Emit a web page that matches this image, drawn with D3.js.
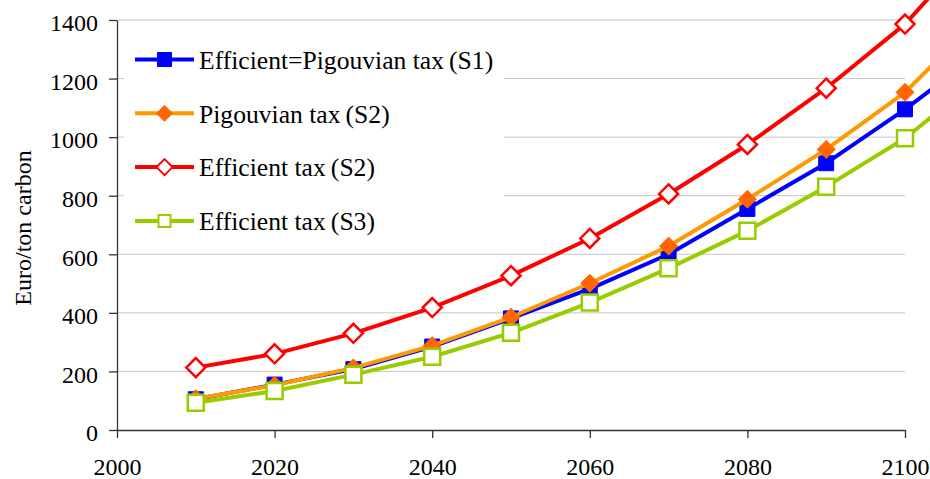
<!DOCTYPE html>
<html>
<head>
<meta charset="utf-8">
<script src="https://cdn.jsdelivr.net/npm/d3@7"></script>
<style>
  body { margin: 0; background: #fff; }
  svg { display: block; font-family: "Liberation Serif", "Times New Roman", serif; }
  .tick text { font-family: "Liberation Serif", "Times New Roman", serif !important; font-size: 24px !important; fill: #000; }
</style>
</head>
<body>
<div id="chart"></div>
<script>
// data
var years = [2010, 2020, 2030, 2040, 2050, 2060, 2070, 2080, 2090, 2100, 2110];
var effPigS1 = [105, 155, 208, 285, 381, 482, 600, 755, 911, 1095, 1297];
var pigS2 = [107, 153, 212, 288, 385, 501, 628, 788, 958, 1153, 1422];
var effS2 = [213, 260, 330, 418, 527, 654, 806, 975, 1167, 1386, 1683];
var effS3 = [93, 133, 189, 250, 332, 435, 552, 680, 831, 996, 1213];
var seriesNames = ["Efficient=Pigouvian tax\u2009(S1)", "Pigouvian tax\u2009(S2)", "Efficient tax\u2009(S2)", "Efficient tax\u2009(S3)"];
var yTicks = [0, 200, 400, 600, 800, 1000, 1200, 1400];
var xTicks = [2000, 2020, 2040, 2060, 2080, 2100];

var width = 930, height = 479;
var plotLeft = 117, plotRight = 905, plotTop = 20, plotBottom = 430;

var svg = d3.select("#chart").append("svg")
    .attr("width", width).attr("height", height);

var x = d3.scaleLinear().domain([2000, 2100]).range([plotLeft, plotRight]);
var y = d3.scaleLinear().domain([0, 1400]).range([plotBottom, plotTop]);

// gridlines
svg.append("g").selectAll("line")
  .data(yTicks.slice(1))
  .join("line")
  .attr("x1", plotLeft).attr("x2", plotRight)
  .attr("y1", d => y(d)).attr("y2", d => y(d))
  .attr("stroke", "#c6c6c6").attr("stroke-width", 1);

// series setup
var series = [
  { name: seriesNames[0], values: effPigS1, line: "#0000ff", marker: "square", fill: "#0000ff", stroke: "#0000ff", size: 15, lsize: 14 },
  { name: seriesNames[1], values: pigS2, line: "#ff9900", marker: "diamond", fill: "#ff6600", stroke: "#ff6600", size: 18, lsize: 16 },
  { name: seriesNames[2], values: effS2, line: "#ff0000", marker: "diamond", fill: "#ffffff", stroke: "#ff0000", size: 19, lsize: 16 },
  { name: seriesNames[3], values: effS3, line: "#99cc00", marker: "square", fill: "#ffffff", stroke: "#99cc00", size: 16, lsize: 12 }
];

function markerPath(type, s) {
  var h = s / 2;
  if (type == "square") return "M" + (-h) + "," + (-h) + "h" + s + "v" + s + "h" + (-s) + "Z";
  return "M0," + (-h) + "L" + h + ",0L0," + h + "L" + (-h) + ",0Z";
}

var line = d3.line().x(d => x(d[0])).y(d => y(d[1]));

series.forEach(function(s) {
  var pts = years.map((yr, i) => [yr, s.values[i]]);
  var g = svg.append("g");
  g.append("path")
    .attr("d", line(pts))
    .attr("fill", "none")
    .attr("stroke", s.line)
    .attr("stroke-width", 4)
    .attr("stroke-linejoin", "round");
  g.selectAll("path.m")
    .data(pts.filter(p => p[0] <= 2100))
    .join("path")
    .attr("class", "m")
    .attr("transform", p => "translate(" + x(p[0]) + "," + y(p[1]) + ")")
    .attr("d", markerPath(s.marker, s.size))
    .attr("fill", s.fill)
    .attr("stroke", s.stroke)
    .attr("stroke-width", s.fill == "#ffffff" ? 2.5 : 1);
});

// axes
var yAxis = d3.axisLeft(y).tickValues(yTicks).tickSize(8).tickSizeOuter(0).tickPadding(11).tickFormat(d3.format("d"));
var xAxis = d3.axisBottom(x).tickValues(xTicks).tickSize(8).tickSizeOuter(0).tickPadding(20).tickFormat(d3.format("d"));

var ya = svg.append("g").attr("transform", "translate(" + plotLeft + ",0)").call(yAxis);
var xa = svg.append("g").attr("transform", "translate(0," + plotBottom + ")").call(xAxis);

ya.attr("font-family", null).attr("font-size", null);
xa.attr("font-family", null).attr("font-size", null);
svg.selectAll(".domain").attr("stroke", "#333").attr("stroke-width", 1.3);
svg.selectAll(".tick line").attr("stroke", "#333").attr("stroke-width", 1.3);
ya.selectAll("text").attr("dy", "0.45em");

// y title
svg.append("text")
  .attr("transform", "translate(31,228) rotate(-90)")
  .attr("text-anchor", "middle")
  .style("font-size", "24px")
  .text("Euro/ton carbon");

// legend
var legend = svg.append("g");
legend.append("rect")
  .attr("x", 124).attr("y", 32).attr("width", 380).attr("height", 211)
  .attr("fill", "#fff");

var item = legend.selectAll("g.item")
  .data(series)
  .join("g")
  .attr("class", "item")
  .attr("transform", (d, i) => "translate(0," + (59.5 + i * 53.8) + ")");

item.append("line")
  .attr("x1", 135).attr("x2", 194)
  .attr("stroke", d => d.line).attr("stroke-width", 4);
item.append("path")
  .attr("transform", "translate(164.5,0)")
  .attr("d", d => markerPath(d.marker, d.lsize))
  .attr("fill", d => d.fill)
  .attr("stroke", d => d.stroke)
  .attr("stroke-width", d => d.fill == "#ffffff" ? 2 : 1);
item.append("text")
  .attr("x", 199).attr("dy", "0.36em")
  .style("font-size", "25.6px")
  .text(d => d.name);
</script>
</body>
</html>
